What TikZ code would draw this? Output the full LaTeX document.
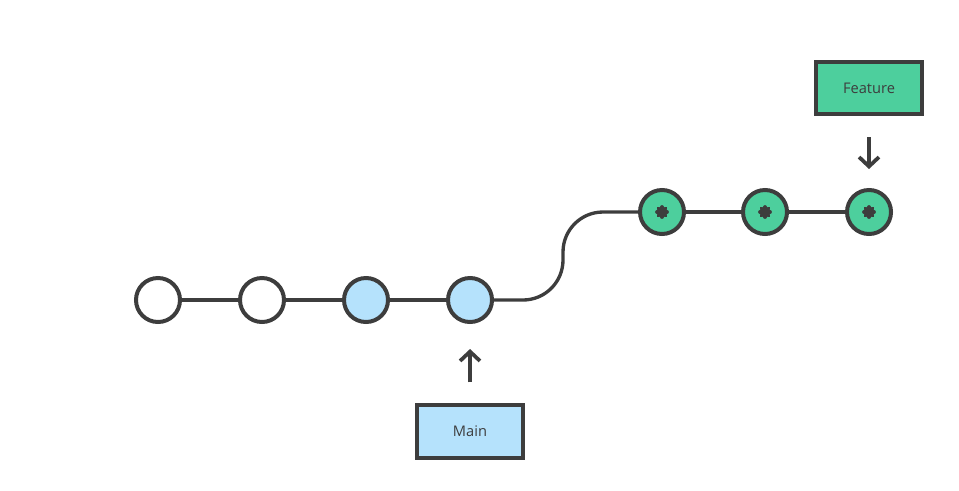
\documentclass[tikz,border=0pt]{standalone}
\usepackage{fontspec}
\setsansfont{Open Sans}
\usetikzlibrary{positioning, arrows.meta, calc}
\definecolor{ink}{HTML}{3D3D3D}
\definecolor{cmMain}{HTML}{B5E2FC}
\definecolor{cmFeat}{HTML}{4DCF9D}

\begin{document}
\begin{tikzpicture}[x=0.03cm, y=-0.03cm, commit/.style={circle, draw=ink, line width=0.12cm, minimum size=1.32cm, inner sep=0pt},br/.style={draw=ink, line width=0.12cm, minimum width=3.2cm, minimum height=1.58cm, inner sep=0pt, font=\sffamily\fontsize{12.5}{14}\selectfont, text=ink},edge/.style={draw=ink, line width=0.1cm},arr/.style={-{Straight Barb[length=8pt, width=17pt, line width=3.2pt]}, line width=0.11cm, color=ink},star/.style={line width=0.1cm, line cap=round, color=ink}]
\useasboundingbox (0,0) rectangle (959,490);
\node[commit, fill=white] (c1) at (158,300) {};
\node[commit, fill=white, right=1.68cm of c1] (c2) {};
\node[commit, fill=cmMain, right=1.68cm of c2] (c3) {};
\node[commit, fill=cmMain, right=1.68cm of c3] (c4) {};
\node[commit, fill=cmFeat] (f1) at (662,212) {};
\node[commit, fill=cmFeat, right=1.65cm of f1] (f2) {};
\node[commit, fill=cmFeat, right=1.68cm of f2] (f3) {};
\node[br, fill=cmFeat, above=2.15cm of f3] (feat) {Feature};
\node[br, fill=cmMain, below=2.38cm of c4] (main) {Main};
\coordinate (bendA) at (563,300);
\coordinate (bendB) at (563,212);
\draw[edge] (c1)--(c2); \draw[edge] (c2)--(c3); \draw[edge] (c3)--(c4);
\draw[edge, rounded corners=1.2cm] (c4)--(bendA)--(bendB)--(f1);
\draw[edge] (f1)--(f2); \draw[edge] (f2)--(f3);
\foreach \n in {f1,f2,f3}
  \foreach \a in {0,45,90,135}
    \draw[star] ($(\n.center)+(\a:5.2)$) -- ($(\n.center)+(\a+180:5.2)$);
\draw[arr, shorten <=0.63cm, shorten >=0.57cm] (feat)--(f3);
\draw[arr, shorten <=0.63cm, shorten >=0.75cm] (main)--(c4);
\end{tikzpicture}
\end{document}
